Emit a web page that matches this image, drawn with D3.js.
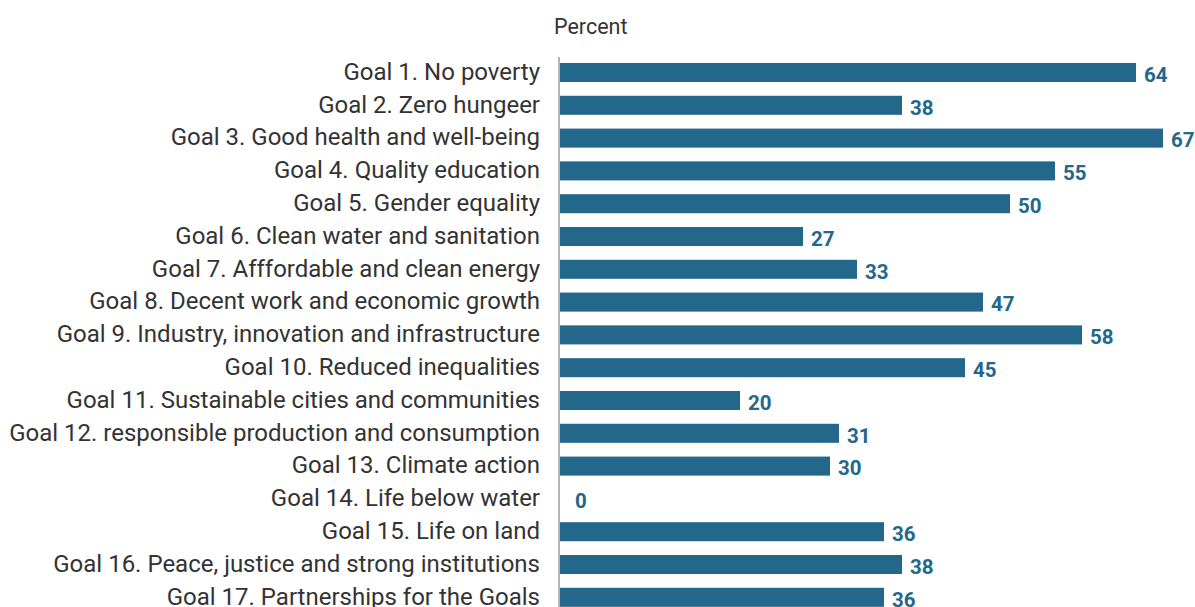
<!DOCTYPE html>
<html>
<head>
<meta charset="utf-8">
<script src="https://cdn.jsdelivr.net/npm/d3@7"></script>
<style>
  html, body { margin: 0; padding: 0; background: #fff; }
  svg { display: block; font-family: Roboto, "Noto Sans", sans-serif; }
</style>
</head>
<body>
<svg id="chart" width="1195" height="607"></svg>
<script>
// SDG goals and the share (percent) for each
const goals = [
  "Goal 1. No poverty",
  "Goal 2. Zero hungeer",
  "Goal 3. Good health and well-being",
  "Goal 4. Quality education",
  "Goal 5. Gender equality",
  "Goal 6. Clean water and sanitation",
  "Goal 7. Afffordable and clean energy",
  "Goal 8. Decent work and economic growth",
  "Goal 9. Industry, innovation and infrastructure",
  "Goal 10. Reduced inequalities",
  "Goal 11. Sustainable cities and communities",
  "Goal 12. responsible production and consumption",
  "Goal 13. Climate action",
  "Goal 14. Life below water",
  "Goal 15. Life on land",
  "Goal 16. Peace, justice and strong institutions",
  "Goal 17. Partnerships for the Goals"
];
const values = [64, 38, 67, 55, 50, 27, 33, 47, 58, 45, 20, 31, 30, 0, 36, 38, 36];
const unitLabel = "Percent";

const svg = d3.select("#chart");
const barColor = "#23678a";
const x0 = 560;

const x = d3.scaleLinear().domain([0, 67]).range([x0, x0 + 67 * 9.0]);
const y = d3.scaleBand()
  .domain(goals)
  .range([56.1, 56.1 + 17 * 32.8])
  .paddingInner(0.42)
  .paddingOuter(0.21);

const data = goals.map((g, i) => ({ goal: g, value: values[i] }));

// unit title
svg.append("text")
  .attr("x", 554)
  .attr("y", 34)
  .attr("fill", "#333")
  .attr("font-size", 21.5)
  .text(unitLabel);

// bars
svg.append("g").selectAll("rect")
  .data(data)
  .join("rect")
  .attr("x", x(0))
  .attr("y", d => y(d.goal))
  .attr("width", d => x(d.value) - x(0))
  .attr("height", y.bandwidth())
  .attr("fill", barColor);

// value labels
svg.append("g").selectAll("text")
  .data(data)
  .join("text")
  .attr("x", d => x(d.value) + (d.value === 0 ? 15 : 8))
  .attr("y", d => y(d.goal) + y.bandwidth() / 2 + 2)
  .attr("dy", "0.36em")
  .attr("fill", barColor)
  .attr("font-size", 20.5)
  .attr("font-weight", "bold")
  .text(d => d.value);

// category axis (labels only, with a grey baseline)
const axis = svg.append("g")
  .attr("transform", `translate(${x0 - 1},0)`)
  .call(d3.axisLeft(y).tickSize(0).tickPadding(19));
axis.select(".domain").remove();
axis.selectAll("text")
  .attr("font-family", "Roboto, 'Noto Sans', sans-serif")
  .attr("font-size", 24)
  .attr("dy", "0.3em")
  .attr("fill", "#333");

svg.append("line")
  .attr("x1", x0 - 1).attr("x2", x0 - 1)
  .attr("y1", 57).attr("y2", 607)
  .attr("stroke", "#b4b4b4")
  .attr("stroke-width", 2);
</script>
</body>
</html>
